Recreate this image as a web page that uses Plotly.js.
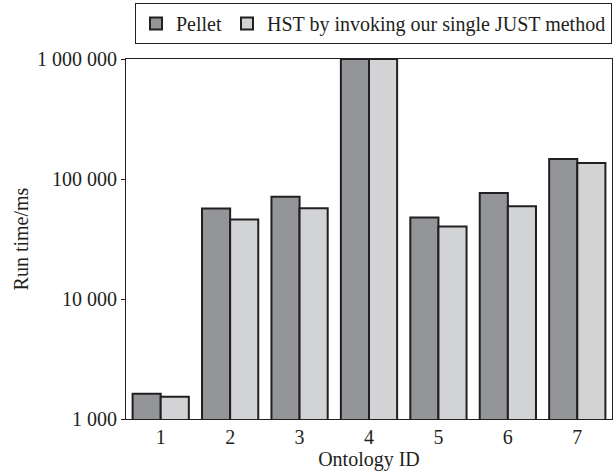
<!DOCTYPE html>
<html>
<head>
<meta charset="utf-8">
<script src="https://cdn.plot.ly/plotly-3.0.1.min.js"></script>
<style>html,body{margin:0;padding:0;background:#fff;}#chart{width:614px;height:471px;}</style>
</head>
<body>
<div id="chart"></div>
<script>
const categories = ['1', '2', '3', '4', '5', '6', '7'];
const pelletValues = [1620, 56800, 71100, 1000000, 47800, 76300, 146600];
const hstValues = [1530, 45900, 57100, 1000000, 40200, 59400, 135800];
const seriesNames = ['Pellet', 'HST by invoking our single JUST method'];
const yTickVals = [1000, 10000, 100000, 1000000];
const yTickText = ['1 000', '10 000', '100 000', '1 000 000'];

const font = 'Liberation Serif, Times New Roman, serif';
const ink = '#231f20';
const traces = [
  {type: 'bar', name: seriesNames[0], x: categories, y: pelletValues,
   marker: {color: '#939598', line: {color: ink, width: 2}}},
  {type: 'bar', name: seriesNames[1], x: categories, y: hstValues,
   marker: {color: '#d1d3d4', line: {color: ink, width: 2}}}
];

const layout = {
  width: 614, height: 471,
  margin: {l: 126, r: 2, t: 59, b: 52},
  paper_bgcolor: '#ffffff', plot_bgcolor: '#ffffff',
  font: {family: font, size: 20, color: ink},
  barmode: 'group', bargap: 0.19, bargroupgap: 0,
  showlegend: true,
  legend: {orientation: 'h', x: 1, xanchor: 'right', y: 1.042, yanchor: 'bottom',
    bordercolor: ink, borderwidth: 1, bgcolor: '#ffffff',
    font: {family: font, size: 20, color: ink}, traceorder: 'normal'},
  xaxis: {type: 'category', showline: true, linecolor: ink, linewidth: 1, mirror: true,
    ticks: '', showgrid: false, zeroline: false,
    tickfont: {family: font, size: 20, color: ink},
    title: {text: 'Ontology ID', font: {family: font, size: 20, color: ink}, standoff: 4}},
  yaxis: {type: 'log', range: [3, 6], showline: true, linecolor: ink, linewidth: 1, mirror: true,
    ticks: 'outside', ticklen: 4, tickcolor: ink, showgrid: false, zeroline: false,
    tickvals: yTickVals, ticktext: yTickText,
    tickfont: {family: font, size: 20, color: ink},
    title: {text: 'Run time/ms', font: {family: font, size: 20, color: ink}, standoff: 3}}
};

Plotly.newPlot('chart', traces, layout, {displayModeBar: false, staticPlot: true});
</script>
</body>
</html>
